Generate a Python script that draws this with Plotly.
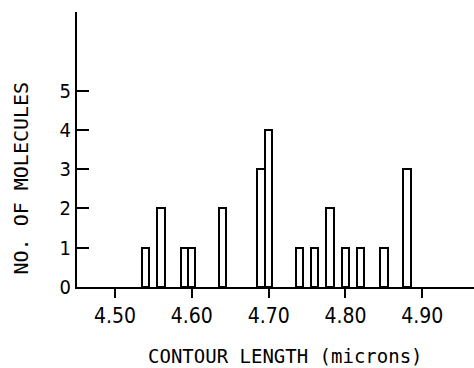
import plotly.graph_objects as go

# Data
contour_length = [4.54, 4.56, 4.59, 4.60, 4.64, 4.69, 4.70, 4.74, 4.76, 4.78, 4.80, 4.82, 4.85, 4.88]
num_molecules = [1, 2, 1, 1, 2, 3, 4, 1, 1, 2, 1, 1, 1, 3]
x_tick_vals = [4.50, 4.60, 4.70, 4.80, 4.90]
x_tick_text = ["4.50", "4.60", "4.70", "4.80", "4.90"]
y_tick_vals = [0, 1, 2, 3, 4, 5]

W, H = 474, 368
L, R, T, B = 77, 0, 12, 368 - 287

mono = "DejaVu Sans Mono, Liberation Mono, monospace"
cond = "DejaVu Sans Condensed, Liberation Sans Narrow, DejaVu Sans, sans-serif"

fig = go.Figure()
fig.add_trace(go.Bar(
    x=contour_length, y=num_molecules, width=0.0095,
    marker=dict(color="white", line=dict(color="black", width=2)),
    showlegend=False,
))

PW = W - L - R
PH = H - T - B

fig.update_layout(
    width=W, height=H,
    margin=dict(l=L, r=R, t=T, b=B, pad=0),
    paper_bgcolor="white", plot_bgcolor="white",
    bargap=0,
    xaxis=dict(
        range=[4.4505, 4.9673], tickmode="array", tickvals=x_tick_vals, ticktext=x_tick_text,
        ticks="outside", ticklen=9, tickwidth=2, tickcolor="black",
        showline=True, linecolor="black", linewidth=2, showgrid=False, zeroline=False,
        tickfont=dict(family=cond, size=21, color="black"),
    ),
    yaxis=dict(
        range=[0, 7], tickmode="array", tickvals=y_tick_vals,
        ticks="inside", ticklen=12, tickwidth=2, tickcolor="black",
        showline=True, linecolor="black", linewidth=2, showgrid=False, zeroline=False,
        tickfont=dict(family=cond, size=20, color="black"),
    ),
    annotations=[
        dict(text="CONTOUR LENGTH (microns)", xref="paper", yref="paper",
             x=(285.5 - L) / PW, y=-(356 - 287) / PH,
             xanchor="center", yanchor="middle", showarrow=False,
             font=dict(family=mono, size=19, color="black")),
        dict(text="NO. OF MOLECULES", xref="paper", yref="paper", textangle=-90,
             x=-(L - 20) / PW, y=1 - (178.5 - T) / PH,
             xanchor="center", yanchor="middle", showarrow=False,
             font=dict(family=mono, size=20, color="black")),
    ],
)

fig.write_html("out.html", config={"displayModeBar": False},
               post_script="document.body.style.margin='0';")
